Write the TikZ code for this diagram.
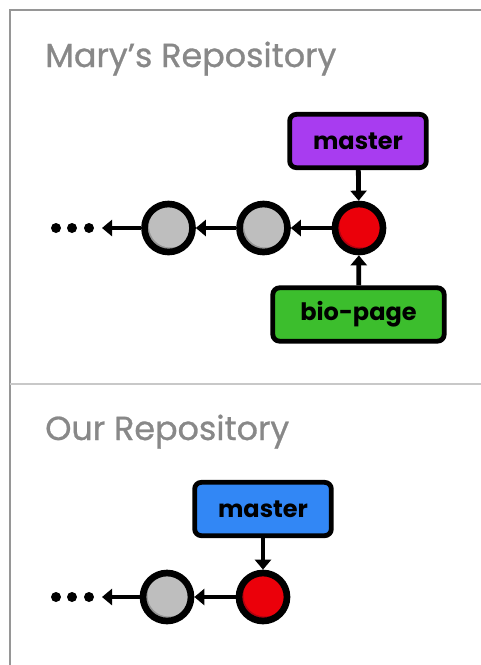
\documentclass[tikz,border=0pt]{standalone}
\usepackage{fontspec}
\setmainfont{Poppins}
\newfontfamily\titlefont{Poppins}[FakeBold=0.8]
\usetikzlibrary{arrows.meta}
\definecolor{framegray}{RGB}{150,150,150}
\definecolor{divgray}{RGB}{200,200,200}
\definecolor{titlegray}{RGB}{136,136,136}
\definecolor{brpurple}{RGB}{168,60,240}
\definecolor{brgreen}{RGB}{60,190,45}
\definecolor{brblue}{RGB}{50,135,245}
\definecolor{redlight}{RGB}{235,0,10}
\definecolor{reddark}{RGB}{180,0,15}
\definecolor{graylight}{RGB}{190,190,190}
\definecolor{graydark}{RGB}{150,150,150}
\tikzset{
  x=0.75pt, y=-0.75pt,
  title/.style={anchor=base west, inner sep=0pt, text=titlegray, font=\titlefont\fontsize{25}{30}\selectfont},
  branch/.style={draw=black, line width=3.6pt, rounded corners=5pt, minimum height=40pt, inner sep=0pt, font=\bfseries\fontsize{18}{21}\selectfont},
  commit/.style={circle, draw=black, line width=5pt, minimum size=36pt, inner sep=0pt, fill=#1dark,
    path picture={\fill[#1light] ([shift={(1.4pt,1.4pt)}]path picture bounding box.center) circle (16pt);}},
  link/.style={line width=3.6pt, -{Triangle[length=7.5pt,width=12pt]}},
  dot/.style={circle, fill=black, inner sep=0pt, minimum size=7.5pt},
}
\begin{document}
\begin{tikzpicture}
\useasboundingbox (0,0) rectangle (481,665);
\fill[white] (0,0) rectangle (481,665);
% frame
\draw[framegray, line width=1.5pt] (10,665) -- (10,10) -- (481,10);
\draw[divgray, line width=1.6pt] (10,384) -- (481,384);
% titles
\node[title] (t1) at (45,67) {Mary’s Repository};
\node[title] (t2) at (45,440) {Our Repository};
% Mary's repository
\node[branch, fill=brpurple, minimum width=102.5pt] (m1) at (358,141) {master};
\node[branch, fill=brgreen, minimum width=128.5pt] (bp) at (358.5,314.5) {bio-page};
\node[commit=red] (c3) at (359,228) {};
\node[commit=gray] (c2) at (263.5,228) {};
\node[commit=gray] (c1) at (168.5,228) {};
\node[dot] (d1) at (56,228) {};
\node[dot] (d2) at (72,228) {};
\node[dot] (d3) at (89,228) {};
\coordinate (e1) at (102,228);
\draw[link] (m1) -- (c3);
\draw[link] (bp) -- (c3);
\draw[link] (c3) -- (c2);
\draw[link] (c2) -- (c1);
\draw[link] (c1) -- (e1);
% Our repository
\node[branch, fill=brblue, minimum width=102.5pt] (m2) at (263,509) {master};
\node[commit=red] (o2) at (263,597) {};
\node[commit=gray] (o1) at (167,597) {};
\node[dot] (f1) at (56,597) {};
\node[dot] (f2) at (72,597) {};
\node[dot] (f3) at (89,597) {};
\coordinate (e2) at (102,597);
\draw[link] (m2) -- (o2);
\draw[link] (o2) -- (o1);
\draw[link] (o1) -- (e2);
\end{tikzpicture}
\end{document}
